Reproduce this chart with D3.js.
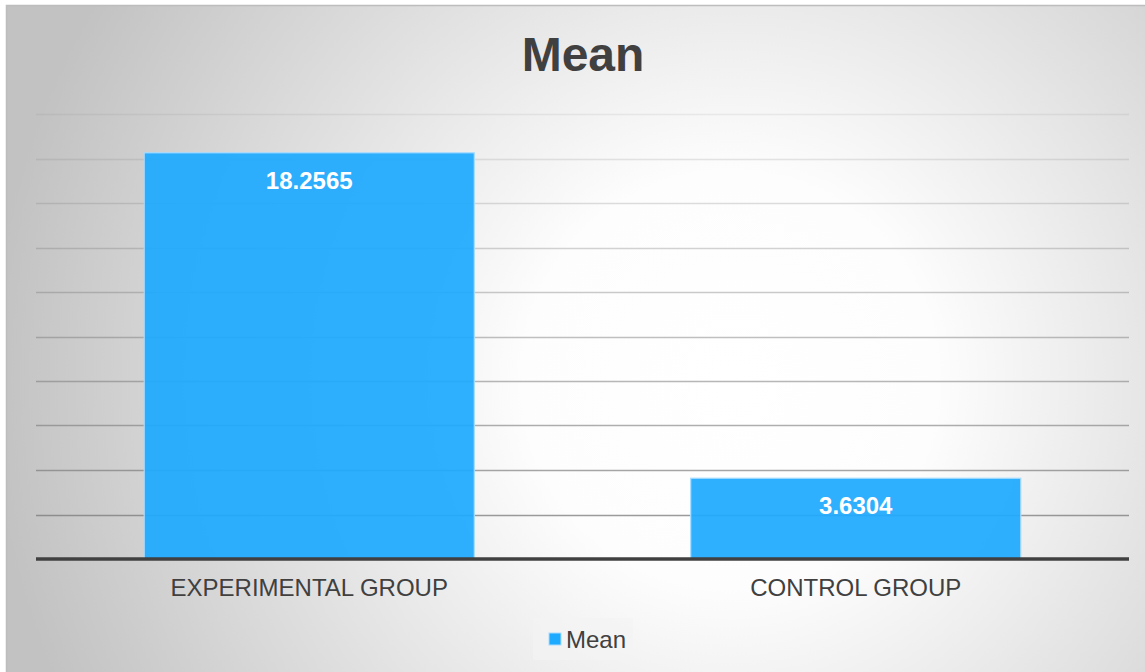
<!DOCTYPE html>
<html><head><meta charset="utf-8">
<script src="https://cdn.jsdelivr.net/npm/d3@7"></script>
<style>html,body{margin:0;padding:0;background:#fff;}svg{display:block;}</style>
</head><body>
<script>
const categories = ["EXPERIMENTAL GROUP", "CONTROL GROUP"];
const meanValues = [18.2565, 3.6304];
const valueLabels = ["18.2565", "3.6304"];
const seriesName = "Mean";
const yTicks = [0, 2, 4, 6, 8, 10, 12, 14, 16, 18, 20];

const W = 1145, H = 672;
const FONT = "Liberation Sans, Arial, sans-serif";
const svg = d3.select("body").append("svg").attr("width", W).attr("height", H);
const defs = svg.append("defs");
const rg = defs.append("radialGradient").attr("id", "bg")
  .attr("gradientUnits", "userSpaceOnUse")
  .attr("cx", 730).attr("cy", 380).attr("r", 740);
rg.append("stop").attr("offset", "0").attr("stop-color", "#ffffff");
rg.append("stop").attr("offset", "0.28").attr("stop-color", "#fdfdfd");
rg.append("stop").attr("offset", "1").attr("stop-color", "#c2c2c2");

svg.append("rect").attr("x", 0).attr("y", 0).attr("width", W).attr("height", H).attr("fill", "#fff");
svg.append("rect").attr("x", 6.5).attr("y", 5.5).attr("width", W + 10).attr("height", H + 10)
  .attr("fill", "url(#bg)").attr("stroke", "#bdbdbd").attr("stroke-width", 1.5);

const plot = {left: 36, right: 1129, top: 114, bottom: 559};
const x = d3.scaleBand().domain(categories).range([plot.left, plot.right]).paddingInner(0).paddingOuter(0);
const y = d3.scaleLinear().domain([0, 20]).range([plot.bottom, plot.top]);

// gridlines
const opac = d3.scaleLinear().domain([20, 2]).range([0.12, 0.75]);
svg.append("g").selectAll("line").data(yTicks.filter(t => t > 0)).join("line")
  .attr("x1", plot.left).attr("x2", plot.right)
  .attr("y1", d => Math.round(y(d)) + 0.5).attr("y2", d => Math.round(y(d)) + 0.5)
  .attr("stroke", "#7a7a7a").attr("stroke-opacity", d => opac(d)).attr("stroke-width", 1.5);

// bars
const bw = x.bandwidth() * 0.604;
svg.append("g").selectAll("rect").data(meanValues).join("rect")
  .attr("x", (d, i) => x(categories[i]) + (x.bandwidth() - bw) / 2)
  .attr("y", d => y(d))
  .attr("width", bw)
  .attr("height", d => y(0) - y(d))
  .attr("fill", "#1eaaff").attr("fill-opacity", 0.93)
  .attr("stroke", "#a8dcff").attr("stroke-width", 1.2);

// value labels
svg.append("g").selectAll("text").data(meanValues).join("text")
  .attr("x", (d, i) => x(categories[i]) + x.bandwidth() / 2)
  .attr("y", d => y(d) + 36)
  .attr("text-anchor", "middle")
  .attr("font-family", FONT)
  .attr("font-weight", "bold").attr("font-size", 24).attr("fill", "#ffffff")
  .text((d, i) => valueLabels[i]);

// x axis baseline
svg.append("line").attr("x1", plot.left).attr("x2", plot.right)
  .attr("y1", y(0)).attr("y2", y(0)).attr("stroke", "#404040").attr("stroke-width", 3.5);

// category labels
svg.append("g").selectAll("text").data(categories).join("text")
  .attr("x", d => x(d) + x.bandwidth() / 2)
  .attr("y", 596)
  .attr("text-anchor", "middle")
  .attr("font-family", FONT)
  .attr("font-size", 24).attr("fill", "#404040")
  .text(d => d);

// title
svg.append("text").attr("x", 583).attr("y", 71).attr("text-anchor", "middle")
  .attr("font-family", FONT)
  .attr("font-weight", "bold").attr("font-size", 48).attr("fill", "#404040")
  .text("Mean");

// legend
const lg = svg.append("g");
lg.append("rect").attr("x", 533).attr("y", 618).attr("width", 100).attr("height", 42).attr("fill", "#f4f4f4").attr("fill-opacity", 0.6);
lg.append("rect").attr("x", 549).attr("y", 633).attr("width", 12).attr("height", 12)
  .attr("fill", "#1eaaff").attr("stroke", "#a8dcff").attr("stroke-width", 1);
lg.append("text").attr("x", 566).attr("y", 648)
  .attr("font-family", FONT)
  .attr("font-size", 24).attr("fill", "#404040").text(seriesName);
</script>
</body></html>
